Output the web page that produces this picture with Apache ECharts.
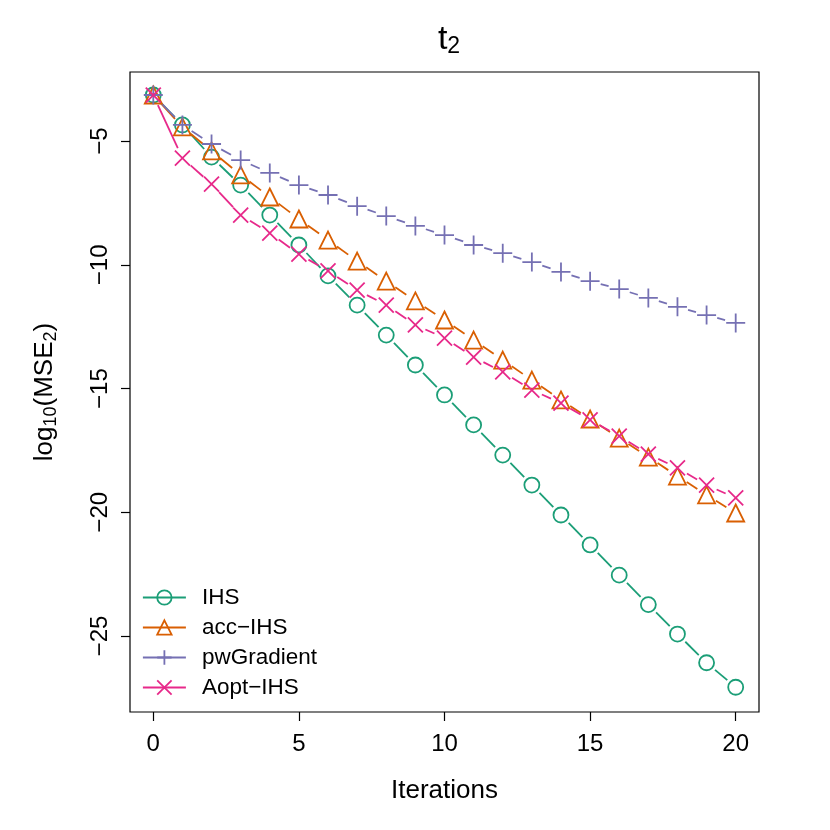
<!DOCTYPE html>
<html><head><meta charset="utf-8">
<script src="https://cdn.jsdelivr.net/npm/echarts@6/dist/echarts.min.js"></script>
<style>html,body{margin:0;padding:0;background:#fff}#c{width:830px;height:830px}</style>
</head><body><div id="c"></div>
<script>
const iterations = [0,1,2,3,4,5,6,7,8,9,10,11,12,13,14,15,16,17,18,19,20];
const ihs = [-3.14,-4.35,-5.65,-6.78,-7.99,-9.2,-10.45,-11.63,-12.84,-14.05,-15.26,-16.47,-17.69,-18.9,-20.11,-21.32,-22.54,-23.73,-24.92,-26.08,-27.07];
const accIhs = [-3.14,-4.43,-5.4,-6.37,-7.26,-8.15,-9.0,-9.85,-10.66,-11.46,-12.23,-13.04,-13.85,-14.66,-15.46,-16.23,-17.0,-17.77,-18.54,-19.3,-20.03];
const pwGradient = [-3.14,-4.35,-5.12,-5.77,-6.29,-6.78,-7.18,-7.63,-8.03,-8.43,-8.8,-9.2,-9.53,-9.89,-10.29,-10.66,-10.98,-11.34,-11.7,-12.03,-12.35];
const aoptIhs = [-3.14,-5.69,-6.74,-7.99,-8.72,-9.57,-10.25,-11.02,-11.63,-12.43,-12.96,-13.73,-14.33,-15.06,-15.59,-16.27,-16.92,-17.65,-18.21,-18.9,-19.42];
const xTicks = [0,5,10,15,20];
const yTicks = [-5,-10,-15,-20,-25];
const names = ['IHS','acc\u2212IHS','pwGradient','Aopt\u2212IHS'];

const colors = ['#1B9E77','#D95F02','#7570B3','#E7298A'];
const symbols = ['circle','triangle','path://M0,5L10,5M5,0L5,10','path://M0,0L10,10M10,0L0,10'];
const sizes = [15,17,19,15];
const allVals = [ihs, accIhs, pwGradient, aoptIhs];
const FONT = '"Liberation Sans", Arial, Helvetica, sans-serif';
const GAP = 11;

function segSeries(vals, color){
  return {
    type:'custom', silent:true, z:1,
    encode:{x:0,y:1},
    data: vals.map((v,i)=>[iterations[i], v]),
    renderItem: function(params, api){
      const i = params.dataIndex;
      if (i >= vals.length-1) return null;
      const p0 = api.coord([iterations[i], vals[i]]);
      const p1 = api.coord([iterations[i+1], vals[i+1]]);
      const dx = p1[0]-p0[0], dy = p1[1]-p0[1];
      const L = Math.hypot(dx,dy);
      if (L <= 2*GAP) return null;
      const ux = dx/L, uy = dy/L;
      return {type:'line', shape:{x1:p0[0]+ux*GAP, y1:p0[1]+uy*GAP, x2:p1[0]-ux*GAP, y2:p1[1]-uy*GAP},
        style:{stroke:color, lineWidth:1.8}};
    }
  };
}

const series = [];
allVals.forEach((vals,k)=>{ series.push(segSeries(vals, colors[k])); });
allVals.forEach((vals,k)=>{
  series.push({
    name:names[k], type:'line', z:3,
    data: vals.map((v,i)=>[iterations[i], v]),
    symbol: symbols[k], symbolSize: sizes[k], showAllSymbol:true,
    itemStyle:{color:'transparent', borderColor:colors[k], borderWidth:1.8},
    lineStyle:{width:0, opacity:0, color:colors[k]},
    emphasis:{disabled:true}, animation:false
  });
});

const chart = echarts.init(document.getElementById('c'), null, {renderer:'canvas'});
chart.setOption({
  animation:false,
  backgroundColor:'#fff',
  title:{
    text:'{a|t}{b|2}', left:444, top:16, textAlign:'center',
    textStyle:{rich:{a:{fontFamily:FONT,fontSize:34,fontWeight:'normal',color:'#000'}, b:{fontFamily:FONT,fontSize:23,fontWeight:'normal',color:'#000',verticalAlign:'bottom',padding:[14,0,0,0]}}}
  },
  grid:{left:130, top:72, right:71, bottom:118, show:true, borderColor:'#000', borderWidth:1.2, backgroundColor:'transparent'},
  xAxis:{
    type:'value', min:-0.8, max:20.8,
    name:'Iterations', nameLocation:'middle', nameGap:66,
    nameTextStyle:{fontFamily:FONT, fontSize:26, color:'#000'},
    axisLine:{show:false, onZero:false},
    splitLine:{show:false},
    axisTick:{show:true, length:9, customValues:xTicks, lineStyle:{color:'#000', width:1.2}},
    axisLabel:{customValues:xTicks, margin:20, fontFamily:FONT, fontSize:24, color:'#000'}
  },
  yAxis:{
    type:'value', min:-28.07, max:-2.21,
    name:'{n|log}{s|10}{n|(MSE}{s|2}{n|)}', nameLocation:'middle', nameGap:70, nameRotate:90,
    nameTextStyle:{rich:{n:{fontFamily:FONT,fontSize:26,color:'#000'}, s:{fontFamily:FONT,fontSize:18,color:'#000',verticalAlign:'bottom',padding:[12,0,0,0]}}},
    axisLine:{show:false, onZero:false},
    splitLine:{show:false},
    axisTick:{show:true, length:9, customValues:yTicks, lineStyle:{color:'#000', width:1.2}},
    axisLabel:{customValues:yTicks, margin:18, rotate:90, fontFamily:FONT, fontSize:24, color:'#000',
      formatter: v => (v<0?'\u2212':'') + Math.abs(v)}
  },
  legend:{
    orient:'vertical', left:137, top:581,
    itemWidth:43, itemHeight:18, itemGap:7,
    textStyle:{fontFamily:FONT, fontSize:22.5, color:'#000', padding:[0,0,0,11]},
    data: names.map((n,k)=>({name:n,
      itemStyle:{color:'transparent', borderColor:colors[k], borderWidth:1.8},
      lineStyle:{color:colors[k], width:1.8, opacity:1, type:'solid'}})),
    selectedMode:false
  },
  series: series
});
</script></body></html>
